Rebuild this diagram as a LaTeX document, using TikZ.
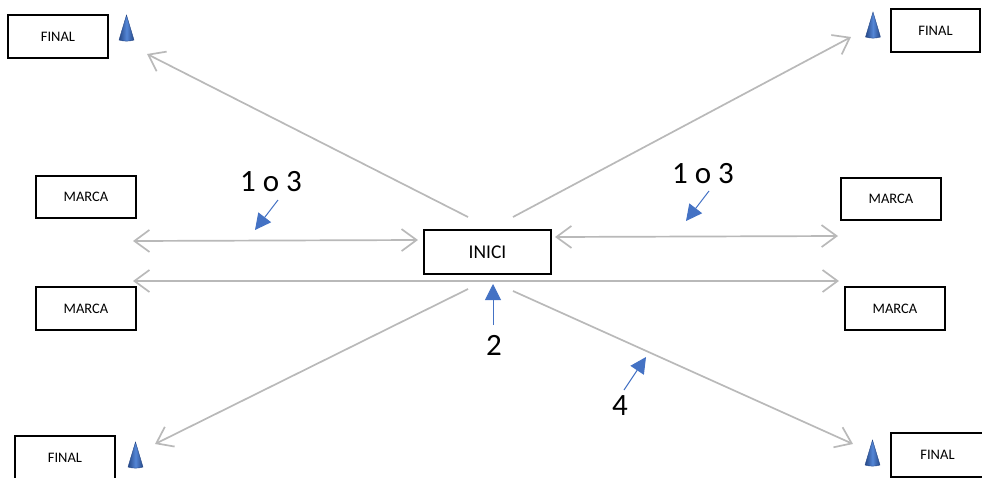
\documentclass[tikz,border=0pt]{standalone}
\usepackage{fontspec}
\setmainfont{Carlito}
\usetikzlibrary{arrows.meta}
\definecolor{linegray}{RGB}{185,185,185}
\definecolor{pointblue}{RGB}{68,114,196}
\definecolor{conedark}{RGB}{38,72,135}
\definecolor{conelight}{RGB}{84,134,214}
\begin{document}
\begin{tikzpicture}[x=1pt,y=-1pt,
  box/.style={draw=black, line width=1.3pt, inner sep=0pt, fill=white,
    font=\fontsize{14.5}{16}\selectfont},
  route/.style={draw=linegray, line width=1.7pt,
    arrows={Straight Barb[length=15pt,width=22pt]-Straight Barb[length=15pt,width=22pt]}},
  oneway/.style={draw=linegray, line width=1.7pt,
    -{Straight Barb[length=15pt,width=22pt]}},
  pointer/.style={draw=pointblue, line width=1pt,
    -{Triangle[length=16pt,width=16pt]}},
  numlabel/.style={inner sep=0pt, font=\fontsize{31}{33}\selectfont},
  cone/.pic={
    \shade[left color=conedark, right color=conedark, middle color=conelight,
      draw=conedark, line width=0.4pt]
      (-7.5,12.5) -- (0,-12.5) -- (7.5,12.5) .. controls (3,14) and (-3,14) .. cycle;
  }]
\useasboundingbox (0,0) rectangle (982,477);
\clip (0,0) rectangle (982,477);

% end-point boxes
\node[box, minimum width=100pt, minimum height=43pt] (finalTL) at (58,36.5) {FINAL};
\node[box, minimum width=89pt, minimum height=43pt] (finalTR) at (935.5,30.5) {FINAL};
\node[box, minimum width=100pt, minimum height=44pt] (finalBL) at (65,458) {FINAL};
\node[box, minimum width=93pt, minimum height=44pt] (finalBR) at (937.5,455) {FINAL};
\node[box, minimum width=100pt, minimum height=42pt] (marcaLU) at (86,197) {MARCA};
\node[box, minimum width=100pt, minimum height=43pt] (marcaLL) at (86,308.5) {MARCA};
\node[box, minimum width=100pt, minimum height=42pt] (marcaRU) at (891,199) {MARCA};
\node[box, minimum width=100pt, minimum height=43pt] (marcaRL) at (895,308.5) {MARCA};
\node[box, minimum width=127pt, minimum height=44pt,
  font=\fontsize{19.5}{21}\selectfont] (inici) at (487.5,252) {INICI};

% cones beside the FINAL boxes
\pic at (126.5,27.5) {cone};
\pic at (873,24.5) {cone};
\pic at (135.5,454.5) {cone};
\pic at (872.5,452.5) {cone};

% free ends of the grey routes
\coordinate (tlS) at (468,217);  \coordinate (tlE) at (147,54);
\coordinate (trS) at (513,217);  \coordinate (trE) at (851,37);
\coordinate (blS) at (468,289);  \coordinate (blE) at (155,444);
\coordinate (brS) at (513,291);  \coordinate (brE) at (853,444);
\coordinate (luA) at (133,241);  \coordinate (luB) at (418,240);
\coordinate (ruA) at (555,237);  \coordinate (ruB) at (838,236);
\coordinate (midA) at (133,281); \coordinate (midB) at (839,281);

% grey routes
\draw[oneway] (tlS) -- (tlE);
\draw[oneway] (trS) -- (trE);
\draw[oneway] (blS) -- (blE);
\draw[oneway] (brS) -- (brE);
\draw[route] (luA) -- (luB);
\draw[route] (ruA) -- (ruB);
\draw[route] (midA) -- (midB);

% numbered labels with blue pointers
\node[numlabel] (lab13L) at (271,182) {1 o 3};
\node[numlabel] (lab13R) at (703,174) {1 o 3};
\node[numlabel] (lab2) at (494,345) {2};
\node[numlabel] (lab4) at (620,406) {4};

\coordinate (p13L) at (255,230);
\coordinate (p13R) at (686,221);
\coordinate (p2) at (493,284);
\coordinate (p4) at (646,357);

\draw[pointer] (278,200) -- (p13L);
\draw[pointer] (709,191) -- (p13R);
\draw[pointer] (493,325) -- (p2);
\draw[pointer] (624,390) -- (p4);
\end{tikzpicture}
\end{document}
